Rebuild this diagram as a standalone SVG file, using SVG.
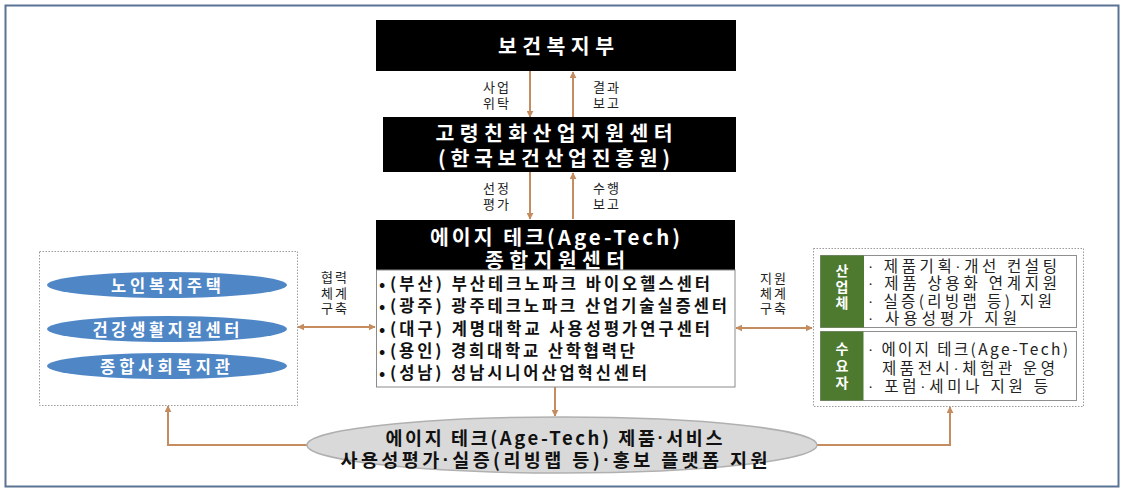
<svg xmlns="http://www.w3.org/2000/svg" width="1125" height="492" viewBox="0 0 1125 492">
<style>
.hd{font-family:"Noto Sans CJK KR","Noto Sans",sans-serif;font-weight:bold;fill:#fff;font-size:20.5px;text-anchor:middle;dominant-baseline:central}
.lb{font-family:"Noto Sans CJK KR","Noto Sans",sans-serif;fill:#222;font-size:13px;text-anchor:middle;letter-spacing:2px}
.li{font-family:"Noto Sans CJK KR","Noto Sans",sans-serif;font-weight:bold;fill:#111;font-size:16.5px;dominant-baseline:central}
.el{font-family:"Noto Sans CJK KR","Noto Sans",sans-serif;font-weight:bold;fill:#fff;font-size:16.5px;text-anchor:middle;dominant-baseline:central}
.rt{font-family:"Noto Sans CJK KR","Noto Sans",sans-serif;fill:#222;font-size:15.5px;dominant-baseline:central}
.gt{font-family:"Noto Sans CJK KR","Noto Sans",sans-serif;font-weight:bold;fill:#fff;font-size:14px;text-anchor:middle}
.bt{font-family:"Noto Sans CJK KR","Noto Sans",sans-serif;font-weight:bold;fill:#111;font-size:18.5px;text-anchor:middle;dominant-baseline:central}
.dot{font-family:"Liberation Sans",sans-serif}
.cn{fill:none;stroke:#c48c5f;stroke-width:2}
.blue{fill:#4f86c6}
.green{fill:#4d7a2f}
</style>
<defs>
<marker id="ah" viewBox="0 0 10 10" refX="9" refY="5" markerWidth="7" markerHeight="7" markerUnits="userSpaceOnUse" orient="auto-start-reverse">
<path d="M0,0 L10,5 L0,10 z" fill="#c48c5f"/>
</marker>
</defs>
<rect x="0" y="0" width="1125" height="492" fill="#fff"/>
<rect id="frame" x="5.5" y="5.5" width="1113" height="481" fill="none" stroke="#5b7393" stroke-width="2"/>

<g id="connectors">
<line class="cn" x1="530" y1="71" x2="530" y2="117" marker-end="url(#ah)"/>
<line class="cn" x1="573" y1="117" x2="573" y2="72" marker-end="url(#ah)"/>
<line class="cn" x1="530" y1="172" x2="530" y2="219" marker-end="url(#ah)"/>
<line class="cn" x1="573" y1="219" x2="573" y2="173" marker-end="url(#ah)"/>
<line class="cn" x1="298" y1="327" x2="375" y2="327" marker-start="url(#ah)" marker-end="url(#ah)"/>
<line class="cn" x1="736" y1="328" x2="812" y2="328" marker-start="url(#ah)" marker-end="url(#ah)"/>
<line class="cn" x1="555" y1="387" x2="555" y2="416" marker-end="url(#ah)"/>
<polyline class="cn" points="308,445 168,445 168,406" marker-end="url(#ah)"/>
<polyline class="cn" points="817,445 950,445 950,407" marker-end="url(#ah)"/>
<text class="lb" x="497" y="92">사업<tspan x="497" dy="16">위탁</tspan></text>
<text class="lb" x="607" y="92">결과<tspan x="607" dy="16">보고</tspan></text>
<text class="lb" x="497" y="193">선정<tspan x="497" dy="16">평가</tspan></text>
<text class="lb" x="607" y="193">수행<tspan x="607" dy="16">보고</tspan></text>
<text class="lb" x="335" y="282">협력<tspan x="335" dy="15.5">체계</tspan><tspan x="335" dy="15.5">구축</tspan></text>
<text class="lb" x="774" y="283">지원<tspan x="774" dy="15">체계</tspan><tspan x="774" dy="15">구축</tspan></text>
</g>

<g id="mohw">
<rect x="376" y="20" width="360" height="51" fill="#000"/>
<text class="hd" x="556" y="45" textLength="116" lengthAdjust="spacing">보건복지부</text>
</g>

<g id="aging-center">
<rect x="383" y="117" width="353" height="55" fill="#000"/>
<text class="hd"><tspan x="554" y="132" textLength="237" lengthAdjust="spacing">고령친화산업지원센터</tspan><tspan x="554" y="157" textLength="232" lengthAdjust="spacing">(한국보건산업진흥원)</tspan></text>
</g>

<g id="agetech-center">
<rect x="376" y="220" width="359" height="50" fill="#000"/>
<text class="hd"><tspan x="555" y="236" textLength="250" lengthAdjust="spacing">에이지 테크(Age-Tech)</tspan><tspan x="555" y="259" textLength="140" lengthAdjust="spacing">종합지원센터</tspan></text>
<rect x="376.5" y="270" width="358.5" height="117" fill="#fff" stroke="#8a8a8a" stroke-width="1"/>
<text class="li">
<tspan x="379" y="283">•</tspan><tspan x="390" y="283" textLength="320" lengthAdjust="spacing">(부산) 부산테크노파크 바이오헬스센터</tspan>
<tspan x="379" y="305">•</tspan><tspan x="390" y="305" textLength="337" lengthAdjust="spacing">(광주) 광주테크노파크 산업기술실증센터</tspan>
<tspan x="379" y="328">•</tspan><tspan x="390" y="328" textLength="320" lengthAdjust="spacing">(대구) 계명대학교 사용성평가연구센터</tspan>
<tspan x="379" y="350">•</tspan><tspan x="390" y="350" textLength="245" lengthAdjust="spacing">(용인) 경희대학교 산학협력단</tspan>
<tspan x="379" y="372">•</tspan><tspan x="390" y="372" textLength="257" lengthAdjust="spacing">(성남) 성남시니어산업혁신센터</tspan>
</text>
</g>

<g id="welfare-group">
<rect x="39.5" y="251.5" width="258" height="154" fill="#fff" stroke="#9a9a9a" stroke-width="1" stroke-dasharray="1.5 1.5"/>
<ellipse class="blue" cx="167" cy="285" rx="120" ry="13"/>
<text class="el" x="166" y="285" textLength="110" lengthAdjust="spacing">노인복지주택</text>
<ellipse class="blue" cx="167" cy="329" rx="120" ry="13"/>
<text class="el" x="166" y="329" textLength="147" lengthAdjust="spacing">건강생활지원센터</text>
<ellipse class="blue" cx="167" cy="366" rx="120" ry="13"/>
<text class="el" x="165" y="366" textLength="130" lengthAdjust="spacing">종합사회복지관</text>
</g>

<g id="support-group">
<rect x="813.5" y="248.5" width="270" height="158" fill="#fff" stroke="#9a9a9a" stroke-width="1" stroke-dasharray="1.5 1.5"/>
<rect x="820.5" y="255.5" width="256" height="72" fill="#fff" stroke="#8f8f8f" stroke-width="1"/>
<rect x="820.5" y="255.5" width="43.5" height="72" class="green"/>
<text class="gt" x="842" y="276">산<tspan x="842" dy="16">업</tspan><tspan x="842" dy="16">체</tspan></text>
<text class="rt">
<tspan x="868" y="265" textLength="189" lengthAdjust="spacing"><tspan class="dot">·</tspan> 제품기획<tspan class="dot">·</tspan>개선 컨설팅</tspan>
<tspan x="868" y="282" textLength="189" lengthAdjust="spacing"><tspan class="dot">·</tspan> 제품 상용화 연계지원</tspan>
<tspan x="868" y="299.5" textLength="184" lengthAdjust="spacing"><tspan class="dot">·</tspan> 실증(리빙랩 등) 지원</tspan>
<tspan x="868" y="317" textLength="149" lengthAdjust="spacing"><tspan class="dot">·</tspan> 사용성평가 지원</tspan>
</text>
<rect x="820.5" y="331.5" width="256" height="69" fill="#fff" stroke="#8f8f8f" stroke-width="1"/>
<rect x="820.5" y="331.5" width="43" height="69" class="green"/>
<text class="gt" x="842" y="354">수<tspan x="842" dy="17">요</tspan><tspan x="842" dy="17">자</tspan></text>
<text class="rt">
<tspan x="868" y="348" textLength="200" lengthAdjust="spacing"><tspan class="dot">·</tspan> 에이지 테크(Age-Tech)</tspan>
<tspan x="882" y="367" textLength="173" lengthAdjust="spacing">제품전시<tspan class="dot">·</tspan>체험관 운영</tspan>
<tspan x="868" y="385" textLength="180" lengthAdjust="spacing"><tspan class="dot">·</tspan> 포럼<tspan class="dot">·</tspan>세미나 지원 등</tspan>
</text>
</g>

<g id="platform">
<ellipse cx="562" cy="445" rx="255" ry="28" fill="#d9d9d9" stroke="#b0b0b0" stroke-width="1.5"/>
<text class="bt"><tspan x="554" y="437" textLength="337" lengthAdjust="spacing">에이지 테크(Age-Tech) 제품<tspan class="dot">·</tspan>서비스</tspan><tspan x="554" y="459" textLength="427" lengthAdjust="spacing">사용성평가<tspan class="dot">·</tspan>실증(리빙랩 등)<tspan class="dot">·</tspan>홍보 플랫폼 지원</tspan></text>
</g>
</svg>
